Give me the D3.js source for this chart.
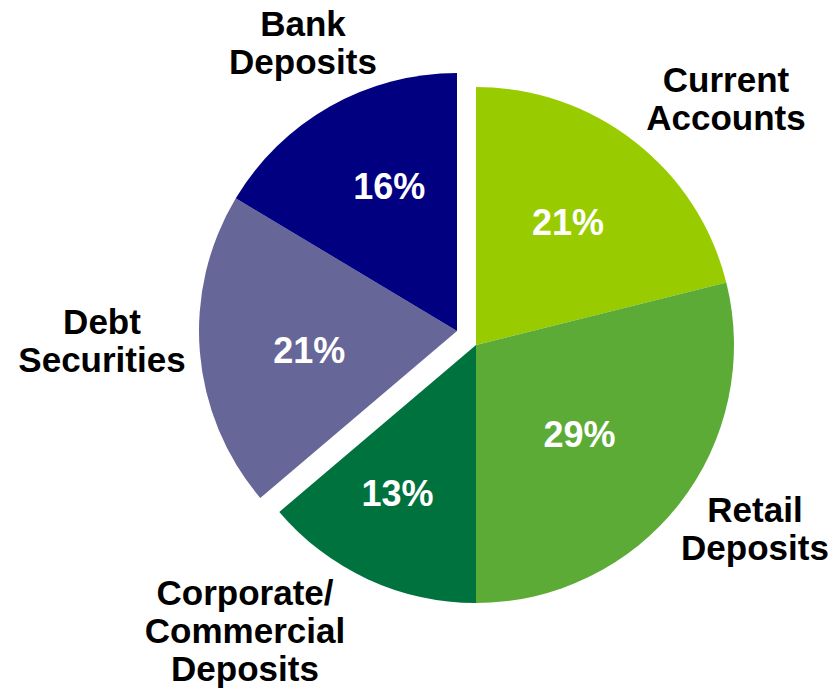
<!DOCTYPE html>
<html>
<head>
<meta charset="utf-8">
<script src="https://d3js.org/d3.v7.min.js"></script>
<style>
  html, body { margin: 0; padding: 0; background: #fff; }
  svg { display: block; }
</style>
</head>
<body>
<div id="chart"></div>
<script>
// ---- data ----
const categories = ['Current Accounts', 'Retail Deposits', 'Corporate/Commercial Deposits', 'Debt Securities', 'Bank Deposits'];
const shares = [21.1, 28.9, 13.8, 19.8, 16.4];
const pctLabels = ['21%', '29%', '13%', '21%', '16%'];
const exploded = [false, false, false, true, true];

// ---- layout / style ----
const W = 834, H = 694;
const cx = 476, cy = 345, R = 258;
const explode = { dx: -19, dy: -14 };
const colors = ['#99cc00', '#5cab37', '#00723e', '#666699', '#000080'];
const font = '"Liberation Sans", Arial, Helvetica, sans-serif';

// where the % label sits inside each slice: radius and a small angle nudge (deg)
const pctPlace = [
  { r: 153, da: -1 },
  { r: 137, da: 3 },
  { r: 168, da: 3 },
  { r: 149, da: -3 },
  { r: 160, da: 4.5 }
];

// category label lines and anchors (centre x, first baseline)
const labelLines = [
  ['Current', 'Accounts'],
  ['Retail', 'Deposits'],
  ['Corporate/', 'Commercial', 'Deposits'],
  ['Debt', 'Securities'],
  ['Bank', 'Deposits']
];
const labelAnchors = [
  { x: 726, y: 92 },
  { x: 755, y: 522 },
  { x: 245, y: 605 },
  { x: 102, y: 334 },
  { x: 303, y: 36 }
];
const lineH = 38;

const rows = categories.map((c, i) => ({
  name: c, value: shares[i], pct: pctLabels[i], out: exploded[i], i
}));

const svg = d3.select('#chart').append('svg')
  .attr('width', W).attr('height', H);

const pie = d3.pie().sort(null).value(d => d.value);
const arc = d3.arc().innerRadius(0).outerRadius(R);

const slices = svg.selectAll('g.slice')
  .data(pie(rows))
  .enter().append('g')
  .attr('class', 'slice')
  .attr('transform', d => d.data.out
    ? `translate(${cx + explode.dx},${cy + explode.dy})`
    : `translate(${cx},${cy})`);

slices.append('path')
  .attr('d', arc)
  .attr('fill', d => colors[d.data.i]);

const pctPos = d => {
  const p = pctPlace[d.data.i];
  const a = (d.startAngle + d.endAngle) / 2 + p.da * Math.PI / 180;
  return [p.r * Math.sin(a), -p.r * Math.cos(a)];
};

slices.append('text')
  .attr('x', d => pctPos(d)[0])
  .attr('y', d => pctPos(d)[1])
  .attr('text-anchor', 'middle')
  .attr('dominant-baseline', 'central')
  .style('font-family', font)
  .style('font-weight', 'bold')
  .style('font-size', '36px')
  .style('fill', '#fff')
  .text(d => d.data.pct);

// category labels
const labels = svg.selectAll('text.cat')
  .data(rows)
  .enter().append('text')
  .attr('class', 'cat')
  .attr('text-anchor', 'middle')
  .style('font-family', font)
  .style('font-weight', 'bold')
  .style('font-size', '35px')
  .style('fill', '#000');

labels.selectAll('tspan')
  .data(d => labelLines[d.i].map((t, k) => ({ t, k, a: labelAnchors[d.i] })))
  .enter().append('tspan')
  .attr('x', d => d.a.x)
  .attr('y', d => d.a.y + d.k * lineH)
  .text(d => d.t);
</script>
</body>
</html>
